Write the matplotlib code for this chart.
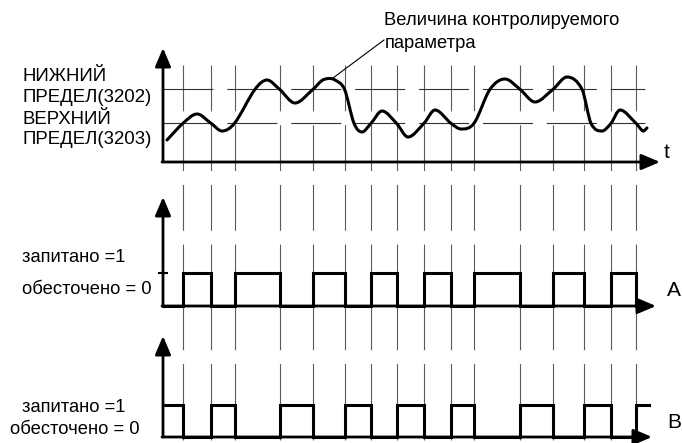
import numpy as np
import matplotlib
matplotlib.use("Agg")
import matplotlib.pyplot as plt
from matplotlib.path import Path
from matplotlib.patches import PathPatch

# ---------------- data ----------------
# controlled parameter: time (diagram units) and height above time axis,
# read at extrema and at threshold crossings
param_time = [167, 183, 197, 211, 222, 234.5, 255, 267, 279.5, 295, 313, 322, 329, 335,
              344.5, 354, 362, 371, 382, 396.5, 408, 424, 435, 451, 461, 474, 490,
              505, 520, 535, 553, 567, 582, 591, 602, 611, 620, 636, 643, 647]
param_value = [22, 38.7, 48, 38.7, 31, 38.7, 72.7, 82, 72.7, 59, 72.7, 81.5, 83.5, 82,
               72.7, 38.7, 30, 38.7, 51, 38.7, 25, 38.7, 52, 38.7, 33, 38.7, 72.7,
               83, 72.7, 60, 72.7, 85, 72.7, 38.7, 31, 38.7, 52, 38.7, 31, 34]
upper_limit = 72.7   # НИЖНИЙ ПРЕДЕЛ(3202)
lower_limit = 38.7   # ВЕРХНИЙ ПРЕДЕЛ(3203)

# relay switching instants and states on each interval
switch_times = [183, 211, 234.5, 279.5, 313, 344.5, 371, 396.5, 424, 451, 474, 520, 553, 584, 611, 636]
relay_a = [0, 1, 0, 1, 0, 1, 0, 1, 0, 1, 0, 1, 0, 1, 0, 1, 0]
relay_b = [1, 0, 1, 0, 1, 0, 1, 0, 1, 0, 1, 0, 1, 0, 1, 0, 1]
t_start, t_end_a, t_end_b = 163, 645, 649

limit_labels = [("НИЖНИЙ", "ПРЕДЕЛ(3202)"), ("ВЕРХНИЙ", "ПРЕДЕЛ(3203)")]
state_labels = ["запитано =1", "обесточено = 0"]
title_lines = ["Величина контролируемого", "параметра"]

# ---------------- drawing ----------------
plt.rcParams['font.family'] = ['Liberation Sans', 'DejaVu Sans']
plt.rcParams['lines.scale_dashes'] = False
fig = plt.figure(figsize=(6.82, 4.43), dpi=100)
ax = fig.add_axes([0, 0, 1, 1])
ax.set_xlim(0, 682)
ax.set_ylim(443, 0)
ax.axis('off')

x0 = 163
base_top, base_a, base_b = 162, 306, 437
pulse_h_a, pulse_h_b = 33, 32
fs = 13.2

def axis_arrow(xs, ys, xe, ye):
    ax.annotate('', xy=(xe, ye), xytext=(xs, ys),
                arrowprops=dict(arrowstyle='-|>,head_length=0.8,head_width=0.34', lw=2.0,
                                color='black', shrinkA=0, shrinkB=0, mutation_scale=14))

# vertical event lines
for t in switch_times:
    ax.plot([t, t], [65, base_b + 3], color='#5a5a5a', lw=0.8, dashes=(33, 10), zorder=1)

# threshold lines
for lvl in (upper_limit, lower_limit):
    ax.plot([x0, 645], [base_top - lvl] * 2, color='#333333', lw=0.8, dashes=(36, 10), zorder=1)

# top axes
axis_arrow(x0, base_top, x0, 48)
axis_arrow(x0 - 1, base_top, 660, base_top)

# smooth curve through the read points (cubic Hermite segments drawn as a Bezier path)
xs = np.asarray(param_time, float)
ys = base_top - np.asarray(param_value, float)
n = len(xs)
m = np.zeros(n)
for i in range(n):
    a, b = max(i - 1, 0), min(i + 1, n - 1)
    m[i] = (ys[b] - ys[a]) / (xs[b] - xs[a])
verts = [(xs[0], ys[0])]
codes = [Path.MOVETO]
for i in range(n - 1):
    dx = xs[i + 1] - xs[i]
    verts += [(xs[i] + dx / 3, ys[i] + m[i] * dx / 3),
              (xs[i + 1] - dx / 3, ys[i + 1] - m[i + 1] * dx / 3),
              (xs[i + 1], ys[i + 1])]
    codes += [Path.CURVE4] * 3
ax.add_patch(PathPatch(Path(verts, codes), fill=False, lw=2.2, edgecolor='black',
                       capstyle='round', joinstyle='round', zorder=3))

# leader line and caption
ax.plot([333, 384], [78, 40], color='black', lw=0.8)
ax.text(384, 20, title_lines[0], fontsize=fs, va='center', ha='left')
ax.text(385, 43, title_lines[1], fontsize=fs, va='center', ha='left')

for (l1, l2), yc in zip(limit_labels, ((76, 97), (119, 139))):
    ax.text(22, yc[0], l1, fontsize=fs + 0.2, va='center', ha='left')
    ax.text(22, yc[1], l2, fontsize=fs + 0.2, va='center', ha='left')
ax.text(664, 152, 't', fontsize=15, va='center', ha='left')

def draw_relay(states, base, h, t_end):
    edges = [t_start] + switch_times + [t_end]
    px, py = [], []
    for i, s in enumerate(states):
        px += [edges[i], edges[i + 1]]
        py += [base - s * h, base - s * h]
    ax.plot(px, py, color='black', lw=2.2, solid_joinstyle='miter', zorder=3)

# relay A
axis_arrow(x0, base_a, x0, 197)
axis_arrow(x0 - 1, base_a, 656, base_a)
ax.plot([x0 - 4, x0 + 4], [base_a - pulse_h_a] * 2, color='black', lw=1.5)
draw_relay(relay_a, base_a, pulse_h_a, t_end_a)
ax.text(22, 258, state_labels[0], fontsize=fs, va='center', ha='left')
ax.text(22, 290, state_labels[1], fontsize=fs, va='center', ha='left')
ax.text(667, 290, 'A', fontsize=15, va='center', ha='left')

# relay B
axis_arrow(x0, base_b, x0, 336)
axis_arrow(x0 - 1, base_b, 652, base_b)
draw_relay(relay_b, base_b, pulse_h_b, t_end_b)
ax.text(22, 407, state_labels[0], fontsize=fs, va='center', ha='left')
ax.text(10, 430, state_labels[1], fontsize=fs, va='center', ha='left')
ax.text(667, 423, 'B', fontsize=15, va='center', ha='left')

fig.savefig('out.png', dpi=100)
